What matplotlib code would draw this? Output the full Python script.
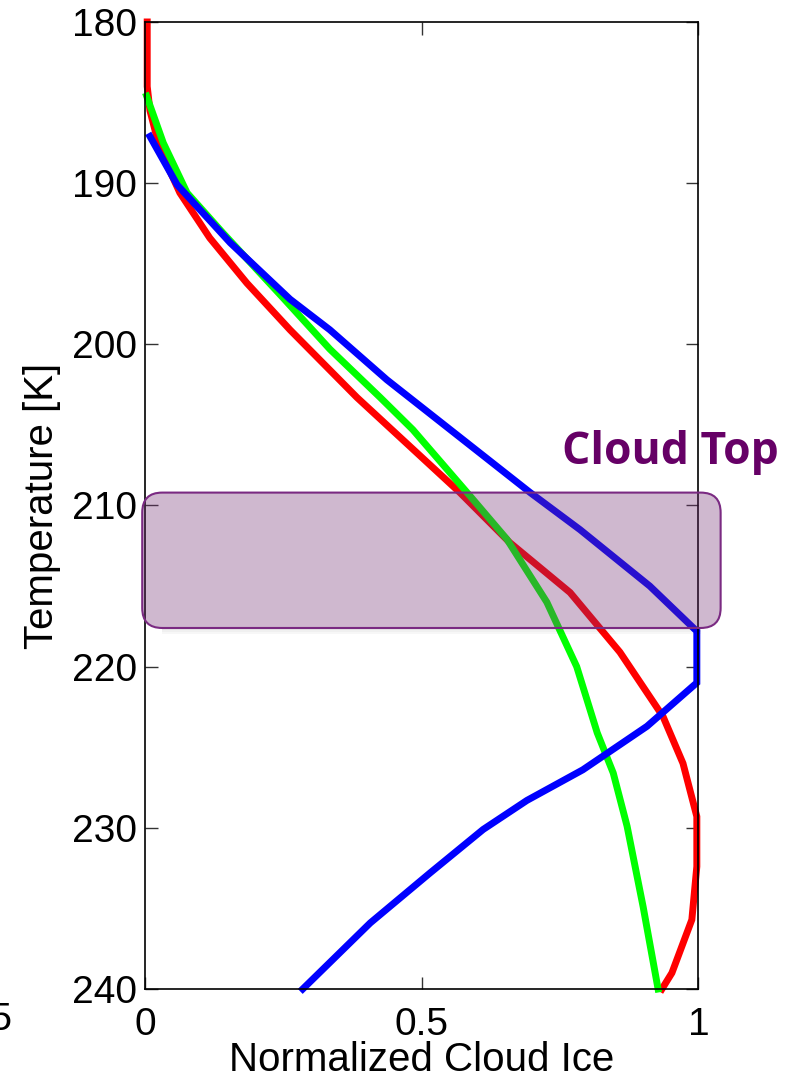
import numpy as np
import matplotlib.pyplot as plt
from matplotlib.patches import FancyBboxPatch, Rectangle

plt.rcParams['font.family'] = ['Liberation Sans', 'DejaVu Sans']

# normalized cloud ice profiles vs temperature [K]
red_ice = [0.004, 0.004, 0.009, 0.027, 0.063, 0.117, 0.184, 0.262, 0.383, 0.569,
           0.659, 0.768, 0.858, 0.936, 0.972, 0.997, 0.997, 0.988, 0.952, 0.934]
red_temp = [180.0, 184.0, 185.5, 187.9, 190.6, 193.4, 196.2, 199.1, 203.3, 209.2,
            212.3, 215.4, 219.1, 223.1, 226.0, 229.3, 232.4, 235.7, 239.0, 240.0]

green_ice = [0.003, 0.033, 0.076, 0.141, 0.249, 0.334, 0.425, 0.484, 0.582, 0.654,
             0.726, 0.780, 0.817, 0.846, 0.871, 0.900, 0.927]
green_temp = [184.6, 187.5, 190.6, 193.1, 197.1, 200.3, 203.3, 205.3, 209.2, 212.1,
              216.0, 220.0, 224.1, 226.6, 229.9, 234.9, 240.0]

blue_ice = [0.009, 0.058, 0.154, 0.262, 0.334, 0.437, 0.696, 0.786, 0.912, 0.997,
            0.997, 0.907, 0.791, 0.690, 0.611, 0.515, 0.407, 0.285]
blue_temp = [187.1, 190.1, 193.7, 197.2, 199.1, 202.2, 209.2, 211.5, 215.0, 217.8,
             221.0, 223.7, 226.4, 228.3, 230.1, 232.8, 235.9, 240.0]

# cloud top band
band_t0, band_t1 = 209.2, 217.6
band_x0, band_x1 = -0.005, 1.04

fig = plt.figure(figsize=(7.98, 10.83), dpi=100)
ax = fig.add_axes([0.1817, 0.0868, 0.6936, 0.8929])

ax.plot(red_ice, red_temp, color='#ff0000', lw=5, solid_joinstyle='miter', clip_on=False)
ax.plot(green_ice, green_temp, color='#00ff00', lw=5, solid_joinstyle='miter', clip_on=False)
ax.plot(blue_ice, blue_temp, color='#0000ff', lw=5, solid_joinstyle='miter', clip_on=False)

# rounded band (radius ~20 px in both directions)
rs = 0.036
asp = 34.4
# faint shadow strip under the bottom edge
for k, a in enumerate([0.10, 0.06, 0.03]):
    ax.add_patch(Rectangle((band_x0 + rs, band_t1 + 0.12 * k), band_x1 - band_x0 - 2 * rs, 0.12,
                           fc='#000000', ec='none', alpha=a, clip_on=False, zorder=4))
box = FancyBboxPatch((band_x0, band_t0), band_x1 - band_x0, band_t1 - band_t0,
                     boxstyle=f'round,pad=0,rounding_size={rs}', mutation_aspect=asp,
                     fc=(117/255, 47/255, 117/255, 0.34),
                     ec='#7a2a82', lw=1.5, clip_on=False, zorder=5)
ax.add_patch(box)

ax.text(0.95, 206.7, 'Cloud Top', color='#660066', fontsize=32, fontweight='bold',
        family=['Open Sans', 'DejaVu Sans'], ha='center', va='center', clip_on=False)

ax.set_xlim(0, 1)
ax.set_ylim(240, 180)
ax.set_xticks([0, 0.5, 1])
ax.set_xticklabels(['0', '0.5', '1'])
ax.set_yticks(np.arange(180, 241, 10))
ax.tick_params(direction='in', length=9, width=1, color='#333333', labelsize=28,
               top=True, right=True)
ax.tick_params(axis='x', pad=13)
ax.tick_params(axis='y', pad=6)
for s in ax.spines.values():
    s.set_linewidth(1.2)

ax.set_xlabel('Normalized Cloud Ice', fontsize=29)
ax.set_ylabel('Temperature [K]', fontsize=29)
ax.xaxis.set_label_coords(0.5, -0.054)
ax.yaxis.set_label_coords(-0.152, 0.5)

# tick label from neighbouring panel, cut by the figure edge
fig.text(12 / 798, 1 - 1020 / 1083, '0.5', fontsize=28, ha='right', va='center')

fig.savefig('out.png', dpi=100)
